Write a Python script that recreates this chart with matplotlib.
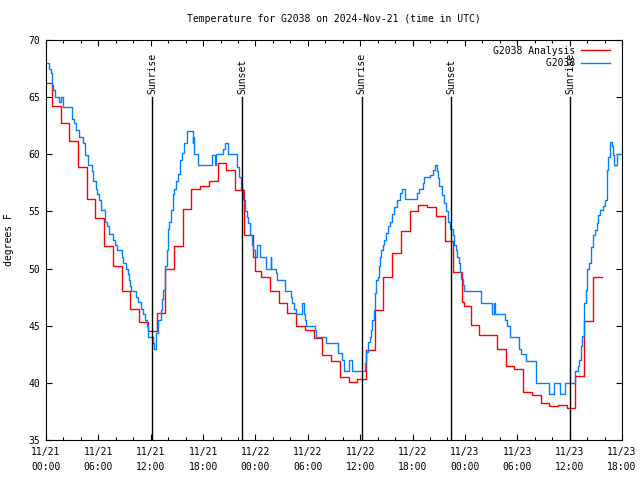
import pandas as pd
import matplotlib
matplotlib.use("Agg")
import matplotlib.pyplot as plt
import matplotlib.dates as mdates

# --- station observations (hours after 2024-11-21 00:00 UTC, deg F) ---
obs_hours = [0, 0.38, 0.54, 0.65, 0.77, 1.03, 1.52, 1.68, 1.91, 2.98, 3.24, 3.44, 3.82,
             4.2, 4.5, 4.78, 5.27, 5.42, 5.73, 5.88, 6.1, 6.34, 6.8, 7.0, 7.25, 7.7,
             7.9, 8.1, 8.7, 8.86, 9.17, 9.36, 9.5, 9.6, 9.7, 10.35, 10.5, 10.9, 11.1,
             11.35, 11.6, 11.72, 12.3, 12.4, 12.6, 12.87, 13.14, 13.33, 13.44, 13.64,
             13.83, 13.95, 14.13, 14.35, 14.55, 14.7, 14.9, 15.1, 15.35, 15.6, 15.8,
             16.2, 16.4, 16.8, 16.9, 17.0, 17.45, 19.0, 19.4, 19.5, 20.3, 20.5, 20.85,
             20.9, 21.9, 22.1, 22.3, 22.6, 22.8, 23.0, 23.1, 23.4, 23.6, 23.75, 23.95,
             24.14, 24.52, 25.21, 25.75, 25.82, 26.35, 26.5, 27.39, 28.04, 28.22, 28.45,
             28.61, 29.3, 29.53, 29.68, 29.79, 30.82, 30.94, 32.08, 33.5, 33.88, 34.18,
             34.75, 35.1, 36.55, 36.67, 36.86, 37.1, 37.25, 37.4, 37.6, 37.7, 37.8, 38.0,
             38.1, 38.3, 38.4, 38.6, 38.7, 38.95, 39.2, 39.4, 39.6, 39.85, 40.2, 40.6,
             40.8, 41.1, 42.55, 42.75, 43.2, 43.3, 43.95, 44.3, 44.6, 44.8, 44.9, 45.05,
             45.4, 45.6, 45.8, 46.1, 46.3, 46.6, 46.75, 47.0, 47.1, 47.3, 47.45, 47.6,
             47.8, 47.9, 49.8, 51.1, 51.3, 51.4, 52.6, 52.8, 53.2, 54.2, 54.4, 55.0,
             56.1, 57.6, 58.25, 58.9, 59.5, 60.6, 61.0, 61.1, 61.3, 61.45, 61.6, 61.7,
             61.85, 61.95, 62.25, 62.5, 62.7, 62.9, 63.1, 63.3, 63.5, 63.85, 64.1, 64.25,
             64.4, 64.6, 64.8, 65.0, 65.1, 65.45, 66.0]
obs_temp = [68.0, 67.5, 67.1, 66.1, 65.6, 65.0, 64.6, 65.0, 64.1, 63.1, 62.7, 62.1, 61.5,
            61.0, 59.9, 59.1, 58.5, 57.7, 57.0, 56.5, 56.0, 55.1, 54.1, 53.7, 53.0, 52.5,
            52.1, 51.6, 51.0, 50.5, 50.0, 49.5, 49.0, 48.5, 48.0, 47.5, 47.1, 46.5, 46.0,
            45.5, 45.0, 44.0, 43.5, 43.0, 44.4, 45.5, 46.4, 47.3, 48.1, 50.2,
            51.6, 53.5, 54.1, 55.1, 56.5, 57.0, 57.7, 58.3, 59.5, 60.1, 61.0,
            62.0, 62.0, 61.0, 61.5, 60.0, 59.1, 59.9, 59.1, 60.0, 60.5, 61.0, 60.5,
            60.0, 58.9, 58.0, 57.0, 56.0, 55.0, 54.5, 54.0, 52.9, 52.1, 51.6, 51.0,
            52.1, 51.0, 50.0, 51.0, 50.0, 49.6, 49.0, 48.0, 47.5, 47.0, 46.5,
            46.0, 47.0, 46.0, 45.5, 45.0, 44.6, 44.0, 43.5, 42.6, 42.0, 41.0,
            42.0, 41.0, 41.7, 42.7, 43.6, 44.0, 44.6, 45.5, 46.4, 47.9, 49.0, 49.3,
            50.2, 51.0, 51.6, 52.1, 52.5, 53.1, 53.7, 54.1, 54.8, 55.4, 56.0, 56.6,
            57.0, 56.1, 56.6, 57.0, 57.5, 58.0, 58.2, 58.6, 59.1, 58.5, 57.9, 57.2,
            56.4, 55.7, 55.0, 54.1, 53.5, 52.9, 52.1, 51.6, 51.0, 50.5, 49.7, 49.1,
            48.6, 48.0, 47.0, 46.0, 47.0, 46.0, 45.5, 45.0, 44.0, 43.0, 42.5, 41.9,
            40.0, 39.0, 40.0, 39.0, 40.0, 41.0, 41.5, 42.0, 43.2, 44.1, 45.0, 47.0,
            48.1, 50.0, 50.5, 51.9, 52.9, 53.4, 54.0, 54.7, 55.1, 55.5, 56.0, 58.6,
            59.8, 61.1, 60.7, 59.9, 59.1, 60.0, 60.0]

# --- analysis (hourly) ---
ana_hours = [0, 0.67, 1.67, 2.67, 3.67, 4.67, 5.67, 6.67, 7.67, 8.67, 9.67, 10.67, 11.67,
             12.67, 13.67, 14.67, 15.67, 16.67, 17.67, 18.67, 19.67, 20.67, 21.67, 22.67,
             23.67, 23.9, 24.67, 25.67, 26.67, 27.67, 28.67, 29.67, 30.67, 31.67, 32.67,
             33.67, 34.67, 35.67, 36.67, 37.67, 38.67, 39.67, 40.67, 41.67, 42.67, 43.67,
             44.67, 45.67, 46.67, 47.67, 47.95, 48.67, 49.67, 51.67, 52.67, 53.67, 54.67,
             55.67, 56.67, 57.67, 58.67, 59.67, 60.67, 61.67, 62.67, 63.7]
ana_temp = [66.2, 64.2, 62.7, 61.2, 58.9, 56.1, 54.4, 52.0, 50.2, 48.0, 46.5, 45.3, 44.5,
            46.1, 50.0, 52.0, 55.2, 57.0, 57.2, 57.7, 59.2, 58.6, 56.9, 52.9,
            51.0, 49.8, 49.3, 48.0, 47.0, 46.1, 45.0, 44.6, 43.9, 42.4, 41.9,
            40.5, 40.1, 40.3, 42.9, 46.4, 49.3, 51.4, 53.3, 55.0, 55.6, 55.4,
            54.6, 52.4, 49.7, 47.1, 46.7, 45.1, 44.2, 43.0, 41.5, 41.2, 39.2,
            38.9, 38.2, 38.0, 38.1, 37.8, 40.6, 45.4, 49.3, 49.3]

# sunrise / sunset times (hours after start)
sun_hours = [12.18, 22.5, 36.17, 46.45, 60.08]
sun_labels = ["Sunrise", "Sunset", "Sunrise", "Sunset", "Sunrise"]

start = pd.Timestamp("2024-11-21 00:00")
obs_t = start + pd.to_timedelta(obs_hours, unit="h")
ana_t = start + pd.to_timedelta(ana_hours, unit="h")
sun_t = start + pd.to_timedelta(sun_hours, unit="h")

plt.rcParams["font.family"] = "DejaVu Sans Mono"
plt.rcParams["font.size"] = 7

fig = plt.figure(figsize=(6.4, 4.8), dpi=100)
ax = fig.add_axes([46 / 640, 40 / 480, 576 / 640, 400 / 480])

ax.plot(ana_t, ana_temp, drawstyle="steps-post", color="#ff0000", lw=1.0,
        label="G2038 Analysis")
ax.plot(obs_t, obs_temp, drawstyle="steps-post", color="#0080ff", lw=1.0,
        label="         G2038")

for t, lab in zip(sun_t, sun_labels):
    ax.plot([t, t], [35, 65], color="black", lw=1.0)
    ax.text(t, 65.3, lab, rotation=90, ha="center", va="bottom", fontsize=7)

ax.set_xlim(start, start + pd.Timedelta(hours=66))
ax.set_ylim(35, 70)
ax.set_yticks(range(35, 71, 5))
ax.xaxis.set_major_locator(mdates.HourLocator(byhour=[0, 6, 12, 18]))
ax.xaxis.set_minor_locator(mdates.HourLocator(interval=2))
ax.xaxis.set_major_formatter(mdates.DateFormatter("%m/%d\n%H:%M"))
ax.tick_params(which="both", direction="in", top=True, right=True, width=0.8)
ax.tick_params(which="major", length=4.5)
ax.tick_params(which="minor", length=2.5)
ax.tick_params(axis="x", pad=5)
ax.tick_params(axis="y", pad=4)
for lbl in ax.get_xticklabels():
    lbl.set_linespacing(1.6)
for s in ax.spines.values():
    s.set_linewidth(0.8)

ax.set_ylabel("degrees F")
ax.yaxis.set_label_coords(-0.055, 0.5)

fig.text(334 / 640, 1 - 19 / 480, "Temperature for G2038 on 2024-Nov-21 (time in UTC)",
         ha="center", va="center", fontsize=7)

ax.legend(loc="upper right", bbox_to_anchor=(0.986, 0.995), frameon=False,
          markerfirst=False, handlelength=3.0, labelspacing=0.25, borderaxespad=0,
          handletextpad=0.6, fontsize=7)

fig.savefig("out.png", dpi=100)
